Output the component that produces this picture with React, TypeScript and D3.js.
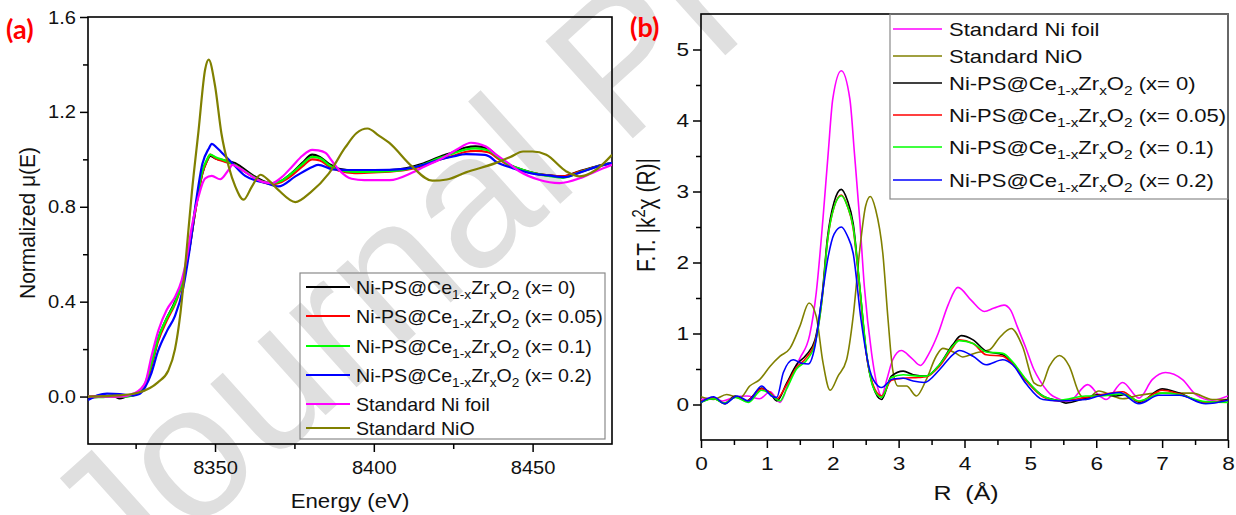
import React, { useEffect, useRef } from "react";
import * as d3 from "d3";

type Pt = [number, number];

// ---- (a) Ni K-edge XANES: energy (eV) vs normalized mu(E) ----
const xanesX0: Pt[] = [[8310,-0.005],[8314,0.0],[8318,0.002],[8320,-0.008],[8322,0.0],[8325,0.008],[8328,0.05],[8330,0.13],[8332,0.24],[8334.8,0.33],[8337.4,0.40],[8340,0.50],[8342,0.63],[8344,0.8],[8346,0.94],[8347.5,0.995],[8348.5,1.015],[8350,1.005],[8353,0.995],[8356.4,0.984],[8358,0.97],[8361.6,0.935],[8365,0.91],[8368,0.898],[8371,0.91],[8374,0.94],[8377.5,0.985],[8380.6,1.02],[8383,1.01],[8386,0.98],[8389,0.96],[8394,0.953],[8400,0.955],[8405,0.955],[8410,0.962],[8415,0.98],[8420.6,1.01],[8425,1.03],[8429,1.05],[8432,1.055],[8436,1.045],[8439.5,1.005],[8443,0.975],[8446.8,0.956],[8451,0.94],[8455,0.932],[8459.6,0.928],[8464.8,0.95],[8470,0.97],[8475,0.985]];
const xanesX005: Pt[] = [[8310,0.0],[8314,0.003],[8318,0.0],[8322,0.002],[8325,0.01],[8328,0.05],[8330,0.13],[8332,0.23],[8334.8,0.32],[8337.4,0.39],[8340,0.49],[8342,0.63],[8344,0.8],[8346,0.94],[8347.5,0.995],[8348.5,1.02],[8350,1.005],[8353,0.99],[8356.4,0.975],[8358,0.96],[8361.6,0.93],[8365,0.905],[8368,0.895],[8371,0.905],[8374,0.93],[8377.5,0.97],[8380.6,1.0],[8383,0.995],[8386,0.97],[8389,0.952],[8394,0.942],[8400,0.945],[8405,0.948],[8410,0.955],[8415,0.97],[8420.6,0.998],[8425,1.015],[8429,1.032],[8432,1.036],[8436,1.03],[8439.5,1.0],[8443,0.972],[8446.8,0.955],[8451,0.94],[8455,0.932],[8459.6,0.928],[8464.8,0.948],[8470,0.968],[8475,0.985]];
const xanesX01: Pt[] = [[8310,0.0],[8314,-0.003],[8318,0.002],[8322,0.0],[8325,0.01],[8328,0.055],[8330,0.14],[8332,0.24],[8334.8,0.33],[8337.4,0.395],[8340,0.5],[8342,0.64],[8344,0.81],[8346,0.95],[8347.5,1.0],[8348.5,1.02],[8350,1.01],[8353,0.995],[8356.4,0.975],[8358,0.962],[8361.6,0.93],[8365,0.905],[8368,0.9],[8371,0.91],[8374,0.94],[8377.5,0.98],[8380.6,1.01],[8383,1.005],[8386,0.975],[8389,0.955],[8394,0.947],[8400,0.948],[8405,0.95],[8410,0.958],[8415,0.975],[8420.6,1.005],[8425,1.025],[8429,1.042],[8432,1.046],[8436,1.038],[8439.5,1.005],[8443,0.975],[8446.8,0.956],[8451,0.94],[8455,0.93],[8459.6,0.922],[8464.8,0.945],[8470,0.968],[8475,0.985]];
const xanesX02: Pt[] = [[8310,-0.015],[8313,0.005],[8316,0.012],[8320,0.01],[8324,0.005],[8326,0.01],[8328,0.04],[8330,0.1],[8332,0.19],[8335,0.28],[8337.4,0.34],[8340,0.46],[8342,0.62],[8344,0.82],[8346,0.98],[8348,1.045],[8349,1.065],[8350.5,1.05],[8352,1.03],[8355,0.99],[8359.5,0.93],[8366,0.9],[8370,0.886],[8375.3,0.928],[8380.6,0.968],[8382.5,0.977],[8387,0.958],[8392,0.955],[8400,0.955],[8410,0.96],[8415,0.975],[8420.6,0.998],[8425,1.012],[8429,1.022],[8435,1.019],[8436.4,1.012],[8438.5,0.99],[8443.7,0.963],[8450,0.94],[8455,0.932],[8460,0.925],[8465,0.945],[8470,0.968],[8475,0.985]];
const xanesNiFoil: Pt[] = [[8310,0.0],[8320,0.0],[8324.8,0.015],[8328,0.058],[8330,0.17],[8332.2,0.28],[8334.8,0.366],[8337.4,0.42],[8339.5,0.49],[8341,0.577],[8342.7,0.717],[8344.8,0.843],[8346.9,0.92],[8349,0.93],[8351.6,0.916],[8354.3,0.956],[8355.5,0.977],[8358,0.96],[8361.6,0.928],[8365,0.905],[8368,0.9],[8371,0.925],[8374.3,0.97],[8377.5,1.015],[8380.6,1.04],[8382.5,1.038],[8384.8,1.027],[8387,0.99],[8389,0.956],[8393,0.918],[8397,0.912],[8405,0.912],[8412,0.943],[8416,0.97],[8420.6,0.998],[8426,1.04],[8430.6,1.07],[8435.3,1.054],[8438.5,1.02],[8441.7,0.99],[8445.8,0.95],[8452,0.914],[8458.5,0.9],[8464.8,0.92],[8470,0.95],[8475,0.977]];
const xanesNiO: Pt[] = [[8310,0.0],[8320,0.005],[8326,0.017],[8332,0.06],[8335.3,0.11],[8337.4,0.2],[8339,0.34],[8340.6,0.55],[8342.7,0.86],[8344.8,1.12],[8346.9,1.38],[8348,1.42],[8350,1.31],[8352,1.11],[8354.3,0.97],[8356.4,0.885],[8359,0.83],[8361.6,0.885],[8364.3,0.935],[8367,0.91],[8370,0.87],[8375.3,0.82],[8380,0.86],[8385.8,0.94],[8391,1.05],[8394.5,1.11],[8398,1.13],[8401.6,1.1],[8404.8,1.07],[8412,0.97],[8418.4,0.91],[8423,0.915],[8429,0.945],[8438.5,0.985],[8443,1.01],[8447,1.033],[8450,1.033],[8454.3,1.019],[8460.6,0.949],[8464.8,0.928],[8470,0.956],[8475,1.019]];
const xanesMajorTicks = [8350, 8400, 8450];
const xanesMinorTicks = [8325, 8375, 8425];
const muMajorTicks = [0, 0.4, 0.8, 1.2, 1.6];
const muMinorTicks = [0.2, 0.6, 1.0, 1.4];

// ---- (b) Fourier transformed EXAFS: R (A) vs |k2 chi(R)| ----
const ftNiFoil: Pt[] = [[0,0.07],[0.17,0.09],[0.33,0.05],[0.5,0.1],[0.7,0.12],[0.89,0.08],[1.05,0.18],[1.2,0.03],[1.35,0.37],[1.5,0.65],[1.65,0.98],[1.75,1.58],[1.85,2.6],[1.93,3.53],[2.0,4.3],[2.13,4.7],[2.26,4.3],[2.33,3.53],[2.41,2.6],[2.48,1.66],[2.59,0.72],[2.69,0.21],[2.74,0.12],[2.82,0.35],[2.91,0.63],[3.04,0.76],[3.2,0.65],[3.33,0.55],[3.45,0.7],[3.6,1.0],[3.75,1.4],[3.9,1.65],[4.1,1.47],[4.3,1.31],[4.45,1.36],[4.6,1.4],[4.7,1.33],[4.8,1.1],[4.93,0.8],[5.05,0.5],[5.15,0.33],[5.34,0.12],[5.59,0.05],[5.87,0.28],[6.05,0.12],[6.15,0.07],[6.4,0.31],[6.65,0.09],[6.85,0.35],[7.05,0.45],[7.31,0.35],[7.51,0.14],[7.76,0.06],[8,0.12]];
const ftNiO: Pt[] = [[0,0.11],[0.19,0.07],[0.39,0.14],[0.59,0.09],[0.74,0.26],[0.89,0.35],[1.05,0.54],[1.2,0.68],[1.35,0.79],[1.5,1.1],[1.64,1.43],[1.75,1.24],[1.85,0.6],[1.96,0.2],[2.08,0.4],[2.21,0.63],[2.31,1.24],[2.41,2.18],[2.5,2.8],[2.57,2.93],[2.65,2.75],[2.76,2.13],[2.84,1.19],[2.91,0.49],[2.99,0.26],[3.12,0.26],[3.27,0.12],[3.42,0.35],[3.57,0.68],[3.67,0.79],[3.87,0.72],[3.97,0.67],[4.18,0.73],[4.38,0.77],[4.53,0.94],[4.71,1.07],[4.88,0.82],[5.06,0.3],[5.16,0.26],[5.29,0.54],[5.44,0.69],[5.59,0.54],[5.74,0.16],[5.84,0.07],[6.04,0.19],[6.25,0.12],[6.4,0.08],[6.65,0.13],[6.95,0.16],[7.46,0.16],[7.76,0.07],[8,0.07]];
const ftX0: Pt[] = [[0,0.03],[0.19,0.09],[0.36,0.01],[0.52,0.12],[0.69,0.05],[0.92,0.23],[1.05,0.16],[1.15,0.05],[1.3,0.3],[1.45,0.56],[1.6,0.7],[1.73,0.91],[1.84,1.55],[1.92,2.35],[2.02,2.85],[2.13,3.03],[2.22,2.88],[2.31,2.55],[2.41,1.66],[2.51,0.72],[2.61,0.26],[2.74,0.07],[2.89,0.4],[3.07,0.47],[3.22,0.42],[3.42,0.4],[3.62,0.56],[3.82,0.84],[3.95,0.97],[4.13,0.91],[4.33,0.75],[4.58,0.7],[4.73,0.58],[4.93,0.35],[5.19,0.12],[5.44,0.05],[5.54,0.02],[5.84,0.09],[6.04,0.14],[6.3,0.12],[6.45,0.14],[6.65,0.03],[7.0,0.22],[7.26,0.16],[7.66,0.02],[8,0.07]];
const ftX005: Pt[] = [[0,0.04],[0.19,0.09],[0.36,0.02],[0.52,0.11],[0.69,0.05],[0.92,0.22],[1.05,0.17],[1.15,0.08],[1.3,0.28],[1.45,0.52],[1.6,0.66],[1.73,0.88],[1.84,1.5],[1.92,2.3],[2.02,2.78],[2.13,2.95],[2.22,2.8],[2.31,2.48],[2.41,1.62],[2.51,0.72],[2.61,0.28],[2.74,0.12],[2.89,0.34],[3.07,0.37],[3.3,0.38],[3.42,0.39],[3.62,0.54],[3.82,0.8],[3.92,0.91],[4.13,0.86],[4.33,0.7],[4.58,0.68],[4.73,0.57],[4.93,0.34],[5.19,0.11],[5.44,0.05],[5.84,0.1],[6.04,0.13],[6.4,0.18],[6.65,0.04],[7.0,0.2],[7.26,0.15],[7.66,0.03],[8,0.06]];
const ftX01: Pt[] = [[0,0.03],[0.19,0.08],[0.36,0.02],[0.52,0.1],[0.72,0.03],[0.92,0.2],[1.05,0.15],[1.2,0.05],[1.3,0.22],[1.45,0.5],[1.6,0.62],[1.73,0.85],[1.84,1.5],[1.92,2.3],[2.02,2.78],[2.13,2.94],[2.22,2.8],[2.31,2.5],[2.41,1.66],[2.51,0.75],[2.61,0.25],[2.74,0.1],[2.89,0.38],[3.07,0.42],[3.3,0.4],[3.42,0.4],[3.62,0.56],[3.82,0.82],[3.92,0.9],[4.13,0.86],[4.33,0.74],[4.58,0.72],[4.73,0.6],[4.93,0.36],[5.19,0.12],[5.44,0.06],[5.84,0.12],[6.04,0.12],[6.4,0.15],[6.65,0.05],[7.0,0.16],[7.26,0.14],[7.66,0.04],[8,0.03]];
const ftX02: Pt[] = [[0,0.03],[0.19,0.11],[0.36,0.01],[0.55,0.12],[0.72,0.05],[0.92,0.26],[1.07,0.12],[1.15,0.1],[1.25,0.45],[1.4,0.63],[1.53,0.58],[1.63,0.57],[1.73,0.82],[1.83,1.47],[1.93,2.08],[2.02,2.4],[2.13,2.5],[2.22,2.38],[2.31,2.13],[2.43,1.19],[2.56,0.49],[2.69,0.26],[2.74,0.24],[2.91,0.36],[3.07,0.37],[3.22,0.33],[3.39,0.31],[3.62,0.49],[3.82,0.7],[3.92,0.76],[4.13,0.68],[4.33,0.56],[4.58,0.63],[4.73,0.56],[4.93,0.3],[5.19,0.07],[5.44,0.05],[5.84,0.07],[6.04,0.12],[6.35,0.17],[6.65,0.01],[6.95,0.13],[7.26,0.13],[7.66,0.01],[8,0.06]];
const rMajorTicks = [0, 1, 2, 3, 4, 5, 6, 7, 8];
const rMinorTicks = [0.5, 1.5, 2.5, 3.5, 4.5, 5.5, 6.5, 7.5];
const ftMajorTicks = [0, 1, 2, 3, 4, 5];
const ftMinorTicks = [0.5, 1.5, 2.5, 3.5, 4.5];

const sampleX = ["0", "0.05", "0.1", "0.2"];
const standards = ["Standard Ni foil", "Standard NiO"];
const sampleColors = ["#000000", "#ff0000", "#00ff00", "#0000ff"];
const standardColors = ["#ff00ff", "#808000"];

const FONT = "'Liberation Sans', Arial, sans-serif";

type Entry = { data: Pt[]; color: string; sample?: string; label?: string };

// writes Ni-PS@Ce1-xZrxO2 (x= ..) with subscripts
function writeLabel(t: any, e: Entry) {
  if (!e.sample) {
    t.text(e.label);
    return;
  }
  const sub = (s: string) => {
    t.append("tspan").attr("dy", 5).attr("font-size", "0.7em").text(s);
  };
  t.append("tspan").text("Ni-PS@Ce");
  sub("1-x");
  t.append("tspan").attr("dy", -5).text("Zr");
  sub("x");
  t.append("tspan").attr("dy", -5).text("O");
  sub("2");
  t.append("tspan").attr("dy", -5).text("\u00a0(x= " + e.sample + ")");
}

function drawPanel(svg: any, o: any) {
  const { box } = o;
  const x = d3.scaleLinear().domain(o.xDomain).range([box.left, box.right]);
  const y = d3.scaleLinear().domain(o.yDomain).range([box.bottom, box.top]);
  const g = svg.append("g");

  const clipId = "clip-" + o.id;
  g.append("clipPath").attr("id", clipId)
    .append("rect")
    .attr("x", box.left).attr("y", box.top)
    .attr("width", box.right - box.left).attr("height", box.bottom - box.top);

  // bottom axis, major + minor
  const xa = g.append("g").attr("transform", `translate(0,${box.bottom})`)
    .call(d3.axisBottom(x).tickValues(o.xMajor).tickSize(8).tickPadding(o.xPad).tickFormat(o.xFmt));
  g.append("g").attr("transform", `translate(0,${box.bottom})`)
    .call(d3.axisBottom(x).tickValues(o.xMinor).tickSize(5).tickFormat(() => ""));
  const ya = g.append("g").attr("transform", `translate(${box.left},0)`)
    .call(d3.axisLeft(y).tickValues(o.yMajor).tickSize(8).tickPadding(o.yPad).tickFormat(o.yFmt));
  g.append("g").attr("transform", `translate(${box.left},0)`)
    .call(d3.axisLeft(y).tickValues(o.yMinor).tickSize(5).tickFormat(() => ""));
  g.selectAll(".domain").remove();
  g.selectAll(".tick line").attr("stroke", "#000").attr("stroke-width", 1.5);
  [xa, ya].forEach((a) => {
    a.attr("font-size", 19).attr("font-family", FONT);
    a.selectAll("text").attr("fill", "#111").attr("transform", `scale(${o.sx},1)`);
  });

  // frame
  g.append("rect")
    .attr("x", box.left).attr("y", box.top)
    .attr("width", box.right - box.left).attr("height", box.bottom - box.top)
    .attr("fill", "none").attr("stroke", "#000").attr("stroke-width", 1.6);

  // curves
  const line = d3.line<Pt>().x((d) => x(d[0])).y((d) => y(d[1])).curve(d3.curveMonotoneX);
  const lines = g.append("g").attr("clip-path", `url(#${clipId})`);
  o.drawOrder.forEach((e: Entry) => {
    lines.append("path").attr("d", line(e.data)).attr("fill", "none")
      .attr("stroke", e.color).attr("stroke-width", o.lineWidth).attr("stroke-linejoin", "round");
  });

  // legend
  const L = o.legend;
  g.append("rect").attr("x", L.x0).attr("y", L.y0).attr("width", L.x1 - L.x0).attr("height", L.y1 - L.y0)
    .attr("fill", "none").attr("stroke", "#8a8a8a").attr("stroke-width", 1.2);
  o.legendOrder.forEach((e: Entry, i: number) => {
    const ry = L.rows[i];
    g.append("line").attr("x1", L.lx0).attr("x2", L.lx1).attr("y1", ry).attr("y2", ry)
      .attr("stroke", e.color).attr("stroke-width", o.lineWidth);
    const t = g.append("text")
      .attr("transform", `translate(${L.tx},${ry + 6.5}) scale(${o.sx},1)`)
      .attr("font-size", 18.5).attr("font-family", FONT).attr("fill", "#111");
    writeLabel(t, e);
  });

  // axis titles
  const xt = g.append("text")
    .attr("transform", `translate(${o.xTitlePos[0]},${o.xTitlePos[1]}) scale(${o.sx},1)`)
    .attr("text-anchor", "middle").attr("font-size", 21).attr("font-family", FONT).attr("fill", "#111")
    .style("white-space", "pre");
  xt.text(o.xTitle);
  const yt = g.append("text")
    .attr("transform", `translate(${o.yTitlePos[0]},${o.yTitlePos[1]}) scale(${o.sx},1) rotate(-90)`)
    .attr("text-anchor", "middle").attr("font-size", 21).attr("font-family", FONT).attr("fill", "#111");
  o.yTitle(yt);

  // panel tag
  g.append("text").attr("x", o.tagPos[0]).attr("y", o.tagPos[1])
    .attr("font-size", 27).attr("font-weight", "bold").attr("font-family", "Lato, 'Open Sans', sans-serif")
    .attr("fill", "#ff0000").text(o.tag);
}

export default function App() {
  const ref = useRef<SVGSVGElement>(null);

  useEffect(() => {
    const svg = d3.select(ref.current);
    svg.selectAll("*").remove();

    // faint "Journal Pre-proof" watermark behind the plots
    svg.append("text")
      .attr("transform", "translate(119,601) rotate(-42)")
      .attr("font-size", 190).attr("font-family", FONT).attr("fill", "#dfdfdf")
      .text("Journal Pre-proof");

    const xanesSamples: Entry[] = [xanesX0, xanesX005, xanesX01, xanesX02]
      .map((d, i) => ({ data: d, color: sampleColors[i], sample: sampleX[i] }));
    const xanesStd: Entry[] = [xanesNiFoil, xanesNiO]
      .map((d, i) => ({ data: d, color: standardColors[i], label: standards[i] }));
    const ftSamples: Entry[] = [ftX0, ftX005, ftX01, ftX02]
      .map((d, i) => ({ data: d, color: sampleColors[i], sample: sampleX[i] }));
    const ftStd: Entry[] = [ftNiFoil, ftNiO]
      .map((d, i) => ({ data: d, color: standardColors[i], label: standards[i] }));

    drawPanel(svg, {
      id: "a",
      box: { left: 88, right: 612, top: 17, bottom: 444 },
      xDomain: [8310, 8475], yDomain: [-0.2, 1.6],
      xMajor: xanesMajorTicks, xMinor: xanesMinorTicks, xFmt: d3.format("d"), xPad: 9,
      yMajor: muMajorTicks, yMinor: muMinorTicks, yFmt: d3.format(".1f"), yPad: 3.3,
      sx: 1.06, lineWidth: 2.2,
      drawOrder: [...xanesSamples, ...xanesStd],
      legendOrder: [...xanesSamples, ...xanesStd],
      legend: { x0: 300, x1: 605, y0: 273, y1: 439, lx0: 306, lx1: 350, tx: 356, rows: [287, 316, 346, 375, 404, 428] },
      xTitle: "Energy (eV)", xTitlePos: [350, 508],
      yTitle: (t: any) => t.text("Normalized \u03bc(E)"), yTitlePos: [35, 223],
      tag: "(a)", tagPos: [6, 39],
    });

    drawPanel(svg, {
      id: "b",
      box: { left: 701, right: 1228, top: 14, bottom: 440 },
      xDomain: [0, 8], yDomain: [-0.5, 5.5],
      xMajor: rMajorTicks, xMinor: rMinorTicks, xFmt: d3.format("d"), xPad: 8.3,
      yMajor: ftMajorTicks, yMinor: ftMinorTicks, yFmt: d3.format("d"), yPad: 2.1,
      sx: 1.19, lineWidth: 1.6,
      drawOrder: [...ftStd, ...ftSamples],
      legendOrder: [...ftStd, ...ftSamples],
      legend: { x0: 890, x1: 1228, y0: 14, y1: 199, lx0: 893, lx1: 942, tx: 949, rows: [29, 56, 83, 115, 147, 180] },
      xTitle: "R  (\u00c5)", xTitlePos: [966, 500],
      yTitle: (t: any) => {
        t.append("tspan").text("F.T. |k");
        t.append("tspan").attr("dy", -8).attr("font-size", "0.7em").text("2");
        t.append("tspan").attr("dy", 8).text("\u03c7 (R)|");
      },
      yTitlePos: [655, 215],
      tag: "(b)", tagPos: [630, 37],
    });

    return () => {
      svg.selectAll("*").remove();
    };
  }, []);

  return (
    <svg ref={ref} width={1236} height={515}
      style={{ position: "absolute", left: 0, top: 0, background: "#fff" }} />
  );
}
